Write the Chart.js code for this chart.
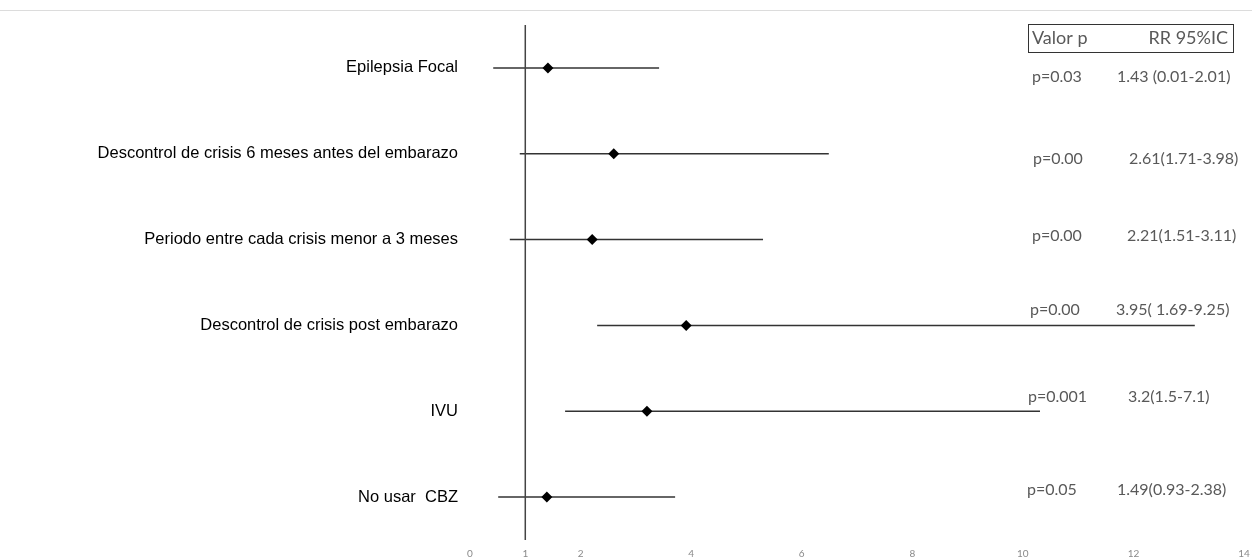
<!DOCTYPE html>
<html>
<head>
<meta charset="utf-8">
<script src="https://cdn.jsdelivr.net/npm/chart.js@4.4.1/dist/chart.umd.min.js"></script>
<style>
  html, body { margin: 0; padding: 0; background: #fff; }
</style>
</head>
<body>
<canvas id="forestChart" width="1252" height="558"></canvas>
<script>
// Factors (top to bottom) and their plotted risk ratios
const factors = [
    'Epilepsia Focal',
    'Descontrol de crisis 6 meses antes del embarazo',
    'Periodo entre cada crisis menor a 3 meses',
    'Descontrol de crisis post embarazo',
    'IVU',
    'No usar  CBZ'
];
const estimate = [1.41, 2.60, 2.21, 3.91, 3.20, 1.39];
const lower = [0.42, 0.90, 0.72, 2.30, 1.72, 0.51];
const upper = [3.42, 6.49, 5.30, 13.11, 10.31, 3.71];
const pValues = ['p=0.03', 'p=0.00', 'p=0.00', 'p=0.00', 'p=0.001', 'p=0.05'];
const rrLabels = ['1.43 (0.01-2.01)', '2.61(1.71-3.98)', '2.21(1.51-3.11)', '3.95( 1.69-9.25)', '3.2(1.5-7.1)', '1.49(0.93-2.38)'];
const xTicks = [0, 1, 2, 4, 6, 8, 10, 12, 14];
const refValue = 1;

// where the text columns on the right sit (offset from each row, left x of each column)
const textLayout = [
    { dy: 9, px: 1032, rx: 1117 },
    { dy: 5, px: 1033, rx: 1129 },
    { dy: -4, px: 1032, rx: 1127 },
    { dy: -16, px: 1030, rx: 1116 },
    { dy: -14, px: 1028, rx: 1128 },
    { dy: -7, px: 1027, rx: 1117 }
];

const rows = factors.map((_, i) => i + 1);

// one line dataset per confidence interval
const ciSets = rows.map((row, i) => ({
    type: 'line',
    data: [{ x: lower[i], y: row }, { x: upper[i], y: row }],
    borderColor: '#333',
    borderWidth: 1.5,
    pointRadius: 0
}));

const tablePlugin = {
    id: 'tablePlugin',
    beforeDraw(chart) {
        const ctx = chart.ctx;
        ctx.save();
        ctx.strokeStyle = '#dcdcdc';
        ctx.lineWidth = 1;
        ctx.beginPath();
        ctx.moveTo(0, 10.5);
        ctx.lineTo(chart.width, 10.5);
        ctx.stroke();
        ctx.restore();
    },
    afterDraw(chart) {
        const ctx = chart.ctx;
        const yScale = chart.scales.y;
        ctx.save();
        ctx.fillStyle = '#595959';
        ctx.textBaseline = 'middle';

        // header box
        ctx.strokeStyle = '#333';
        ctx.lineWidth = 1;
        ctx.strokeRect(1028.5, 24.5, 205, 28);
        ctx.font = '18px Lato';
        ctx.textAlign = 'left';
        ctx.fillText('Valor p', 1032, 38);
        ctx.textAlign = 'right';
        ctx.fillText('RR 95%IC', 1228, 38);

        ctx.font = '16px Lato';
        ctx.textAlign = 'left';
        rows.forEach((row, i) => {
            const y = yScale.getPixelForValue(row) + textLayout[i].dy;
            ctx.fillText(pValues[i], textLayout[i].px, y);
            ctx.fillText(rrLabels[i], textLayout[i].rx, y);
        });
        ctx.restore();
    }
};

new Chart(document.getElementById('forestChart'), {
    type: 'scatter',
    data: {
        datasets: [
            {
                data: rows.map((row, i) => ({ x: estimate[i], y: row })),
                pointStyle: 'rectRot',
                pointRadius: 5.5,
                backgroundColor: '#000',
                borderColor: '#000',
                borderWidth: 0
            },
            {
                type: 'line',
                data: [{ x: refValue, y: 0.5 }, { x: refValue, y: 6.5 }],
                borderColor: '#444',
                borderWidth: 1.5,
                pointRadius: 0
            },
            ...ciSets
        ]
    },
    options: {
        responsive: false,
        animation: false,
        devicePixelRatio: 1,
        layout: { padding: { top: 25, right: 8, left: 0, bottom: 0 } },
        plugins: {
            legend: { display: false },
            tooltip: { enabled: false }
        },
        scales: {
            x: {
                type: 'linear',
                min: 0,
                max: 14,
                grid: { display: false, drawTicks: false },
                border: { display: false },
                afterBuildTicks: (scale) => { scale.ticks = xTicks.map(v => ({ value: v })); },
                afterFit: (scale) => {
                    scale.height = 18;
                    scale.paddingLeft = 0;
                    scale.paddingRight = 0;
                },
                ticks: {
                    color: '#8a8a8a',
                    font: { family: 'Lato', size: 10 },
                    padding: 8,
                    autoSkip: false,
                    maxRotation: 0
                }
            },
            y: {
                type: 'linear',
                reverse: true,
                min: 0.5,
                max: 6.5,
                grid: { display: false, drawTicks: false },
                border: { display: false },
                afterBuildTicks: (scale) => { scale.ticks = rows.map(v => ({ value: v })); },
                afterFit: (scale) => {
                    scale.width = 470;
                    scale.paddingTop = 0;
                    scale.paddingBottom = 0;
                },
                ticks: {
                    callback: (value) => factors[value - 1],
                    color: '#000',
                    font: { family: 'Liberation Sans', size: 16.5 },
                    padding: 12,
                    autoSkip: false
                }
            }
        }
    },
    plugins: [tablePlugin]
});
</script>
</body>
</html>
